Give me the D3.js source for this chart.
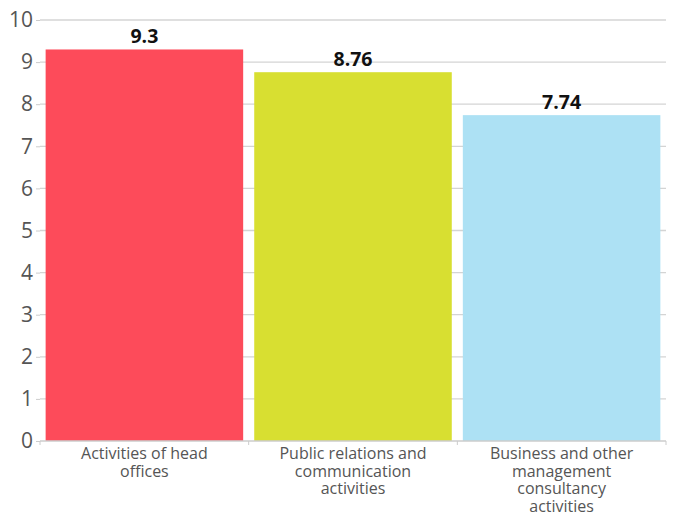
<!DOCTYPE html>
<html>
<head>
<meta charset="utf-8">
<script src="https://cdn.jsdelivr.net/npm/d3@7"></script>
<style>
  body { margin: 0; background: #fff; }
  text { font-family: "Open Sans", "Noto Sans", sans-serif; }
</style>
</head>
<body>
<script>
// Data
const categories = [
  "Activities of head offices",
  "Public relations and communication activities",
  "Business and other management consultancy activities"
];
const values = [9.3, 8.76, 7.74];
const barColors = ["#fd4b5a", "#d8df31", "#ade1f4"];
const yTicks = [0, 1, 2, 3, 4, 5, 6, 7, 8, 9, 10];

// Margin convention
const margin = {top: 20, right: 8, bottom: 74, left: 40};
const width = 674 - margin.left - margin.right,
      height = 515 - margin.top - margin.bottom;

const svg = d3.select("body").append("svg")
  .attr("width", 674)
  .attr("height", 515)
  .append("g")
  .attr("transform", `translate(${margin.left},${margin.top})`);

const x = d3.scaleBand()
  .domain(categories)
  .range([0, width])
  .paddingInner(0.053)
  .paddingOuter(0.027);

const y = d3.scaleLinear()
  .domain([0, 10])
  .range([height, 0]);

// Gridlines
svg.append("g")
  .selectAll("line")
  .data(yTicks.filter(d => d > 0))
  .join("line")
  .attr("x1", 0)
  .attr("x2", width)
  .attr("y1", d => y(d))
  .attr("y2", d => y(d))
  .attr("stroke", "#d4d4d4")
  .attr("stroke-width", 1.3);

// Y axis
const yAxis = svg.append("g")
  .call(d3.axisLeft(y).tickValues(yTicks).tickSize(4).tickPadding(3));
yAxis.select(".domain").remove();
yAxis.selectAll(".tick line").attr("stroke", "#cccccc");
yAxis.selectAll(".tick text")
  .attr("fill", "#555")
  .attr("font-size", 21)
  .attr("font-family", "'Open Sans', sans-serif");

// Bars
svg.append("g")
  .selectAll("rect")
  .data(values)
  .join("rect")
  .attr("x", (d, i) => x(categories[i]))
  .attr("width", x.bandwidth())
  .attr("y", d => y(d))
  .attr("height", d => height - y(d))
  .attr("fill", (d, i) => barColors[i]);

// Value labels
svg.append("g")
  .selectAll("text")
  .data(values)
  .join("text")
  .attr("x", (d, i) => x(categories[i]) + x.bandwidth() / 2)
  .attr("y", d => y(d) - 6)
  .attr("text-anchor", "middle")
  .attr("font-size", 19.5)
  .attr("font-weight", "bold")
  .attr("fill", "#111")
  .text(d => d);

// X axis: line with ticks at band boundaries
const xAxisG = svg.append("g").attr("transform", `translate(0,${height})`);
xAxisG.append("line")
  .attr("x1", 0).attr("x2", width)
  .attr("stroke", "#cccccc").attr("stroke-width", 1.3);
xAxisG.selectAll(".bound")
  .data(d3.range(categories.length + 1))
  .join("line")
  .attr("class", "bound")
  .attr("x1", i => i * width / categories.length)
  .attr("x2", i => i * width / categories.length)
  .attr("y1", 0).attr("y2", 4)
  .attr("stroke", "#cccccc");

// Category labels, wrapped
const labelSize = 16;
const measure = svg.append("text").attr("font-size", labelSize).attr("visibility", "hidden");
function wrap(str, maxW) {
  const words = str.split(" ");
  const lines = [];
  let line = [];
  for (const w of words) {
    const test = line.concat(w).join(" ");
    measure.text(test);
    if (measure.node().getComputedTextLength() > maxW && line.length) {
      lines.push(line.join(" "));
      line = [w];
    } else {
      line.push(w);
    }
  }
  lines.push(line.join(" "));
  return lines;
}

categories.forEach((c, i) => {
  const t = xAxisG.append("text")
    .attr("x", x(c) + x.bandwidth() / 2)
    .attr("y", 18)
    .attr("text-anchor", "middle")
    .attr("font-size", labelSize)
    .attr("fill", "#555");
  wrap(c, 150).forEach((ln, k) => {
    t.append("tspan")
      .attr("x", x(c) + x.bandwidth() / 2)
      .attr("dy", k === 0 ? 0 : 17.5)
      .text(ln);
  });
});
measure.remove();
</script>
</body>
</html>
